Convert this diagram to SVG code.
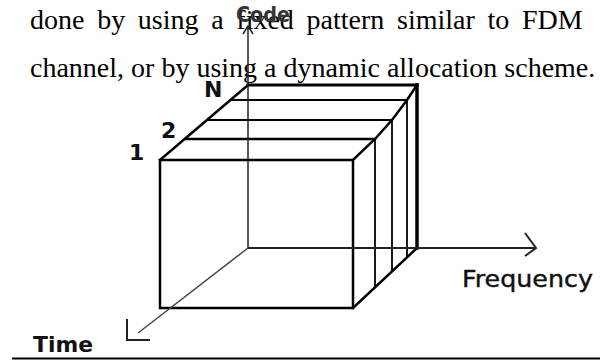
<svg xmlns="http://www.w3.org/2000/svg" width="600" height="360" viewBox="0 0 600 360">
<style>
.para{font-family:"Liberation Serif","Times New Roman",serif;font-size:28px;fill:#000}
.lbl{font-family:"DejaVu Sans",Verdana,sans-serif;font-weight:bold;fill:#111}
.box{fill:none;stroke:#000;stroke-width:2.5;stroke-linecap:square}
.thin{fill:none;stroke:#000;stroke-width:1.8}
.axis{fill:none;stroke:#222;stroke-width:1.5}
</style>
<rect width="600" height="360" fill="#fff"/>
<g id="paragraph">
<text class="para" x="30" y="29" word-spacing="5.7">done by using a fixed pattern similar to FDM</text>
<text class="para" x="30" y="77">channel, or by using a dynamic allocation scheme.</text>
</g>
<g id="cube">
<polyline class="box" points="160,308 160,160 353,160 353,308 160,308"/>
<line class="box" x1="160" y1="160" x2="248" y2="85"/>
<line class="box" x1="248" y1="85" x2="417" y2="85" style="stroke-width:3"/>
<polyline class="box" points="353,160 375,139 392,120 407,100 417,85"/>
<line class="box" x1="186" y1="139" x2="375" y2="139"/>
<line class="thin" x1="208" y1="120" x2="392" y2="120"/>
<line class="thin" x1="231" y1="100" x2="407" y2="100"/>
<line class="thin" x1="375" y1="139" x2="375" y2="287"/>
<line class="thin" x1="392" y1="120" x2="392" y2="272"/>
<line class="thin" x1="407" y1="100" x2="407" y2="258"/>
<line class="box" x1="417" y1="85" x2="417" y2="248" style="stroke-width:3.5"/>
<line class="box" x1="353" y1="308" x2="417" y2="248"/>
</g>
<g id="axes">
<line class="axis" x1="248" y1="26" x2="248" y2="248"/>
<polyline class="axis" points="243,34 248,26 253,34"/>
<line class="axis" x1="248" y1="248" x2="535" y2="248" style="stroke-width:2"/>
<polyline class="axis" points="525,233 536,248 525,256" style="stroke-width:2"/>
<line class="axis" x1="248" y1="248" x2="138" y2="333" style="stroke:#444;stroke-width:1.5"/>
<polyline class="axis" points="127,319 127,340 150,340" style="stroke-width:2"/>
</g>
<g id="labels">
<text class="lbl" x="236" y="22" font-size="22" textLength="54" lengthAdjust="spacingAndGlyphs" style="fill:#333">Code</text>
<text class="lbl" x="204" y="97" font-size="22">N</text>
<text class="lbl" x="161" y="138" font-size="22">2</text>
<text class="lbl" x="129" y="160" font-size="22">1</text>
<text class="lbl" x="462" y="287" font-size="23" textLength="131" lengthAdjust="spacingAndGlyphs" style="font-weight:normal;stroke:#111;stroke-width:0.4">Frequency</text>
<text class="lbl" x="33" y="352" font-size="21" textLength="60" lengthAdjust="spacingAndGlyphs">Time</text>
</g>
<line x1="12" y1="358.5" x2="600" y2="358.5" stroke="#000" stroke-width="2"/>
</svg>
